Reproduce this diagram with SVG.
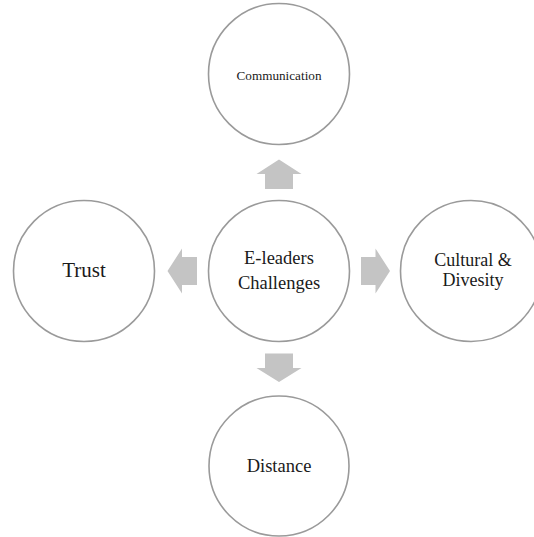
<svg xmlns="http://www.w3.org/2000/svg" width="534" height="537" viewBox="0 0 534 537">
  <style>
    .node circle { fill: #ffffff; stroke: #9a9a9a; stroke-width: 1.6; }
    .node text { font-family: "Liberation Serif", "DejaVu Serif", serif; fill: #1a1a1a; text-anchor: middle; }
    .arrow { fill: #c4c4c4; stroke: none; }
  </style>
  <rect width="534" height="537" fill="#ffffff"/>

  <!-- block arrows pointing out from the hub -->
  <g id="connectors">
    <path class="arrow" d="M279,159.5 L301.5,174 L293,174 L293,189 L265,189 L265,174 L256.5,174 Z"/>
    <path class="arrow" d="M279,382 L301.5,368 L293,368 L293,353.5 L265,353.5 L265,368 L256.5,368 Z"/>
    <path class="arrow" d="M167.5,271 L182,248.5 L182,257 L197,257 L197,285 L182,285 L182,293.5 Z"/>
    <path class="arrow" d="M390,271 L375.5,248.5 L375.5,257 L361,257 L361,285 L375.5,285 L375.5,293.5 Z"/>
  </g>

  <g id="hub" class="node">
    <circle cx="279" cy="271" r="70.5"/>
    <text x="279" y="264" font-size="18.5">E-leaders</text>
    <text x="279" y="289" font-size="18.5">Challenges</text>
  </g>

  <g id="communication" class="node">
    <circle cx="279" cy="74" r="70.5"/>
    <text x="279" y="80" font-size="13.2">Communication</text>
  </g>

  <g id="trust" class="node">
    <circle cx="84" cy="271" r="70.5"/>
    <text x="84" y="277" font-size="21">Trust</text>
  </g>

  <g id="cultural" class="node">
    <circle cx="471" cy="271" r="70.5"/>
    <text x="473" y="266" font-size="18">Cultural &amp;</text>
    <text x="473" y="285.5" font-size="18">Divesity</text>
  </g>

  <g id="distance" class="node">
    <circle cx="279" cy="466" r="70"/>
    <text x="279" y="472" font-size="18.5">Distance</text>
  </g>
</svg>
